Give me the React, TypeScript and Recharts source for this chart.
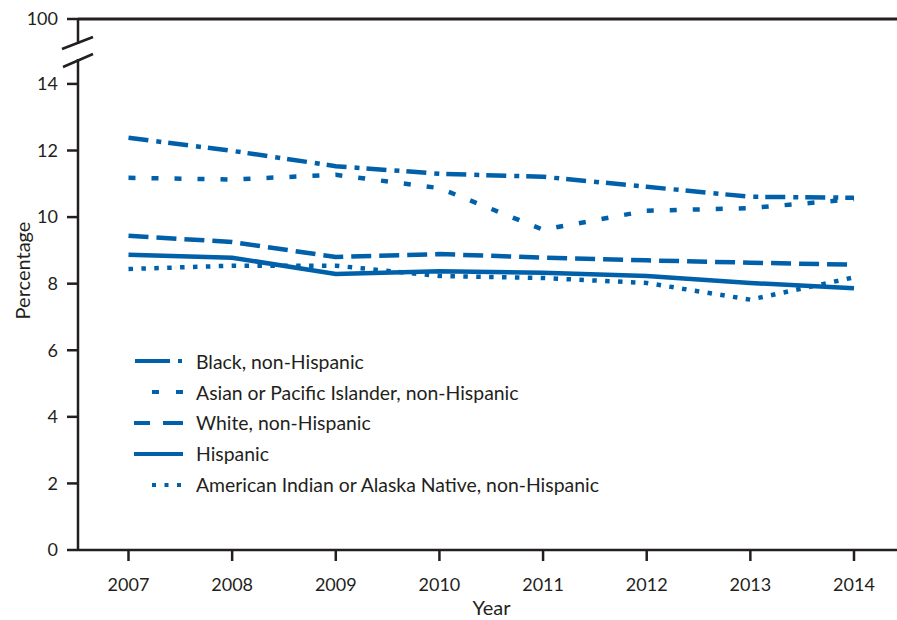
import { LineChart, Line, XAxis, YAxis, ReferenceLine, Legend } from 'recharts';

// values (percent)
const years = [2007, 2008, 2009, 2010, 2011, 2012, 2013, 2014];
const black = [12.38, 11.99, 11.53, 11.3, 11.21, 10.91, 10.61, 10.58];
const asian = [11.18, 11.13, 11.27, 10.87, 9.62, 10.19, 10.27, 10.54];
const white = [9.44, 9.25, 8.8, 8.89, 8.78, 8.7, 8.63, 8.57];
const hispanic = [8.87, 8.78, 8.29, 8.37, 8.33, 8.23, 8.02, 7.86];
const aian = [8.44, 8.54, 8.54, 8.23, 8.17, 8.02, 7.52, 8.19];

const yTicks = [0, 2, 4, 6, 8, 10, 12, 14];
// the axis is broken above 14, the top tick stands for 100
const BREAK_TOP = 15.95;
const BREAK_LABEL = '100';

const BLUE = '#0060a9';
const INK = '#231f20';
const FONT = 'Lato, "Open Sans", sans-serif';

const series = [
  { key: 'black', name: 'Black, non-Hispanic', values: black, dash: '20 8 5 7', icon: { x1: 1, x2: 49, dash: '35 8 4 50' } },
  { key: 'asian', name: 'Asian or Pacific Islander, non-Hispanic', values: asian, dash: '7 16', icon: { x1: 18, x2: 49, dash: '7 17 7 50' } },
  { key: 'white', name: 'White, non-Hispanic', values: white, dash: '20 8', icon: { x1: 0, x2: 49, dash: '16 13 20 50' } },
  { key: 'hispanic', name: 'Hispanic', values: hispanic, dash: undefined, icon: { x1: 0, x2: 49, dash: undefined } },
  { key: 'aian', name: 'American Indian or Alaska Native, non-Hispanic', values: aian, dash: '4.5 8.4', icon: { x1: 18, x2: 49, dash: '4 8.5' } },
];

const data = years.map((year, i) => {
  const row: Record<string, number> = { year };
  series.forEach((s) => {
    row[s.key] = s.values[i];
  });
  return row;
});

function LegendBox() {
  return (
    <div style={{ fontFamily: FONT, fontSize: 19.4, color: INK }}>
      {series.map((s) => (
        <div key={s.key} style={{ display: 'flex', alignItems: 'center', height: 30.8 }}>
          <svg width={50} height={10} style={{ marginRight: 12 }}>
            <line x1={s.icon.x1} x2={s.icon.x2} y1={5} y2={5} stroke={BLUE} strokeWidth={4} strokeDasharray={s.icon.dash} />
          </svg>
          <span>{s.name}</span>
        </div>
      ))}
    </div>
  );
}

function YLabel({ viewBox }: any) {
  const cx = viewBox.x + 22;
  const cy = viewBox.y + viewBox.height / 2 - 14;
  return (
    <text x={cx} y={cy} transform={`rotate(-90 ${cx} ${cy})`} textAnchor="middle" dominantBaseline="central"
      fill={INK} fontSize={20} fontFamily={FONT}>
      Percentage
    </text>
  );
}

export default function App() {
  return (
    <div style={{ position: 'absolute', left: 0, top: 0, width: 897, height: 620, background: '#fff' }}>
      <LineChart width={897} height={620} data={data} margin={{ top: 19, right: 0, bottom: 0, left: 0 }}>
        <XAxis
          dataKey="year"
          type="number"
          domain={[2007, 2014]}
          ticks={years}
          padding={{ left: 50.5, right: 43 }}
          height={70}
          stroke={INK}
          strokeWidth={2.5}
          tickSize={11}
          tickMargin={17}
          tick={{ fill: INK, fontSize: 18, fontFamily: FONT }}
          label={{ value: 'Year', position: 'insideBottom', offset: 5, dx: 4, fill: INK, fontSize: 20, fontFamily: FONT }}
        />
        <YAxis
          type="number"
          domain={[0, BREAK_TOP]}
          ticks={[...yTicks, BREAK_TOP]}
          tickFormatter={(v: number) => (v === BREAK_TOP ? BREAK_LABEL : String(v))}
          width={78}
          stroke={INK}
          strokeWidth={2.5}
          tickSize={11}
          tickMargin={9}
          tick={{ fill: INK, fontSize: 18, fontFamily: FONT }}
          label={<YLabel />}
        />
        <ReferenceLine y={BREAK_TOP} stroke={INK} strokeWidth={3} />
        {series.map((s) => (
          <Line
            key={s.key}
            dataKey={s.key}
            name={s.name}
            stroke={BLUE}
            strokeWidth={4.5}
            strokeDasharray={s.dash}
            dot={false}
            activeDot={false}
            isAnimationActive={false}
          />
        ))}
        <Legend
          layout="vertical"
          align="center"
          verticalAlign="middle"
          content={<LegendBox />}
          wrapperStyle={{ left: 134, top: 346, width: 560 }}
        />
      </LineChart>
      {/* axis break marks */}
      <svg width={897} height={620} style={{ position: 'absolute', left: 0, top: 0, pointerEvents: 'none' }}>
        <rect x={74} y={44} width={8} height={15} fill="#fff" />
        <line x1={62} y1={49} x2={93} y2={37} stroke={INK} strokeWidth={2.5} />
        <line x1={63} y1={67} x2={93} y2={54} stroke={INK} strokeWidth={2.5} />
      </svg>
    </div>
  );
}
